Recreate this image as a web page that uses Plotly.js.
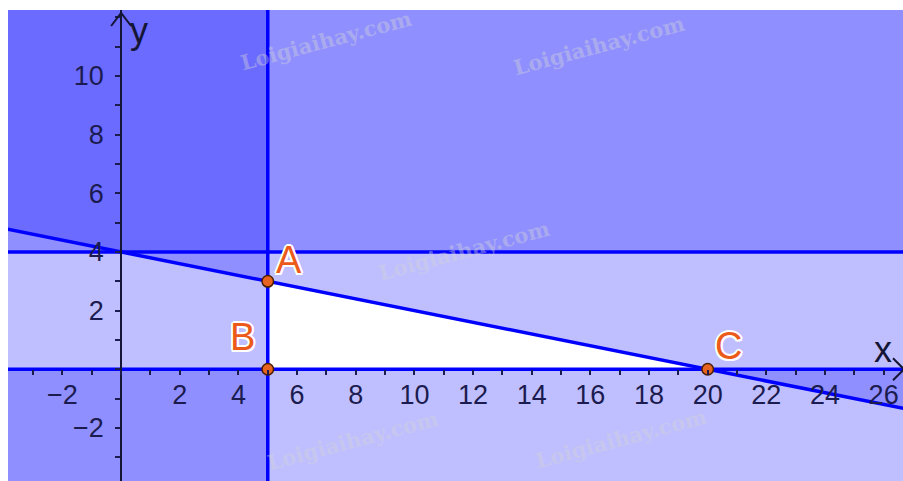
<!DOCTYPE html>
<html>
<head>
<meta charset="utf-8">
<script src="https://cdn.plot.ly/plotly-3.0.1.min.js"></script>
<style>html,body{margin:0;padding:0;background:#fff;}#chart{width:903px;height:481px;}</style>
</head>
<body>
<div id="chart"></div>
<script>
// ---- data ----
const xTickVals = [-2, 2, 4, 6, 8, 10, 12, 14, 16, 18, 20, 22, 24, 26];
const xTickText = ['−2', '2', '4', '6', '8', '10', '12', '14', '16', '18', '20', '22', '24', '26'];
const yTickVals = [-2, 2, 4, 6, 8, 10];
const yTickText = ['−2', '2', '4', '6', '8', '10'];
const boundaryX = 5;          // x = 5
const boundaryY = 4;          // y = 4
const lineXIntercept = 20;    // x/20 + y/4 = 1
const lineYIntercept = 4;
const pointLabels = ['A', 'B', 'C'];
const pointX = [5, 5, 20];
const pointY = [3, 0, 0];
const xRange = [-3.857, 26.66];
const yRange = [-3.81, 12.25];

// ---- helpers ----
const FAR = 1000;
const lineY = x => lineYIntercept - lineYIntercept * x / lineXIntercept;
const fillColor = 'rgba(0,0,255,0.25)';
const blue = '#0000ff';
const dark = '#1b1b4f';

function region(xs, ys) {
  return {type: 'scatter', mode: 'none', x: xs, y: ys, fill: 'toself',
          fillcolor: fillColor, hoverinfo: 'skip', showlegend: false};
}
function line(xs, ys) {
  return {type: 'scatter', mode: 'lines', x: xs, y: ys,
          line: {color: blue, width: 3.5}, hoverinfo: 'skip', showlegend: false};
}

const traces = [
  // x < 5
  region([-FAR, boundaryX, boundaryX, -FAR], [-FAR, -FAR, FAR, FAR]),
  // y > 4
  region([-FAR, FAR, FAR, -FAR], [boundaryY, boundaryY, FAR, FAR]),
  // y < 0
  region([-FAR, FAR, FAR, -FAR], [0, 0, -FAR, -FAR]),
  // above the line x/20 + y/4 = 1
  region([-FAR, FAR, FAR, -FAR], [lineY(-FAR), lineY(FAR), 10 * FAR, 10 * FAR]),
  // boundary lines
  line([boundaryX, boundaryX], [-FAR, FAR]),
  line([-FAR, FAR], [boundaryY, boundaryY]),
  line([-FAR, FAR], [0, 0]),
  line([-FAR, FAR], [lineY(-FAR), lineY(FAR)]),
  // points
  {type: 'scatter', mode: 'markers', x: pointX, y: pointY, cliponaxis: false,
   marker: {size: 11.5, color: '#e8641e', line: {color: '#4a1e00', width: 1.5}},
   hoverinfo: 'skip', showlegend: false}
];

const labelShift = {A: [21, 21], B: [-25, 32], C: [21, 23]};
const halo = '2px 0 0 #fff, -2px 0 0 #fff, 0 2px 0 #fff, 0 -2px 0 #fff, 1.5px 1.5px 0 #fff, -1.5px -1.5px 0 #fff, 1.5px -1.5px 0 #fff, -1.5px 1.5px 0 #fff';
const annotations = pointLabels.map((t, i) => ({
  x: pointX[i], y: pointY[i], xref: 'x', yref: 'y', text: t, showarrow: false,
  xanchor: 'center', yanchor: 'middle',
  xshift: labelShift[t][0], yshift: labelShift[t][1],
  font: {family: 'Liberation Sans, Arial, sans-serif', size: 38, color: '#eb5a1a', shadow: halo}
}));

// axis names
annotations.push({x: 1, y: 0, xref: 'paper', yref: 'y', text: 'x', showarrow: false,
  xanchor: 'right', yanchor: 'bottom', xshift: -9, yshift: -3,
  font: {family: 'Liberation Sans, Arial, sans-serif', size: 36, color: '#151535'}});
annotations.push({x: 0, y: 1, xref: 'x', yref: 'paper', text: 'y', showarrow: false,
  xanchor: 'left', yanchor: 'top', xshift: 7, yshift: 2,
  font: {family: 'Liberation Sans, Arial, sans-serif', size: 36, color: '#151535'}});

// watermarks
const wmText = 'Loigiaihay.com';
const wmPos = [[0.355, 0.935], [0.66, 0.925], [0.51, 0.49], [0.385, 0.085], [0.685, 0.09]];
wmPos.forEach(p => annotations.push({
  x: p[0], y: p[1], xref: 'paper', yref: 'paper', text: '<b>' + wmText + '</b>', showarrow: false,
  xanchor: 'center', yanchor: 'middle',
  textangle: -15, font: {family: 'DejaVu Serif, serif', size: 21, color: 'rgba(210,210,215,0.42)'}
}));

const shapes = [
  // y-axis arrow head
  {type: 'path', xref: 'x', yref: 'y', xsizemode: 'pixel', ysizemode: 'pixel',
   xanchor: 0, yanchor: yRange[1], path: 'M -10 -16 L 0 -3 L 10 -16',
   line: {color: '#151535', width: 2}},
  // x-axis arrow head
  {type: 'path', xref: 'x', yref: 'y', xsizemode: 'pixel', ysizemode: 'pixel',
   xanchor: xRange[1], yanchor: 0, path: 'M -10 11 L 1 0 L -10 -11',
   line: {color: '#151535', width: 2}}
];

const tickFont = {family: 'Liberation Sans, Arial, sans-serif', size: 27, color: dark};

const layout = {
  width: 903, height: 481,
  margin: {l: 8, r: 0, t: 10, b: 0, pad: 0},
  paper_bgcolor: '#ffffff', plot_bgcolor: '#ffffff',
  showlegend: false,
  xaxis: {
    range: xRange, anchor: 'free', position: (0 - yRange[0]) / (yRange[1] - yRange[0]),
    showgrid: false, zeroline: false, showline: false,
    tickmode: 'array', tickvals: xTickVals, ticktext: xTickText,
    ticks: 'outside', ticklen: 5, tickwidth: 2, tickcolor: dark,
    minor: {tickmode: 'linear', tick0: 0, dtick: 1, ticks: 'outside', ticklen: 5, tickwidth: 2, tickcolor: dark},
    tickfont: tickFont, ticklabelstandoff: -4, fixedrange: true
  },
  yaxis: {
    range: yRange, anchor: 'free', position: (0 - xRange[0]) / (xRange[1] - xRange[0]),
    showgrid: false, zeroline: false, showline: true, linecolor: '#151535', linewidth: 2,
    tickmode: 'array', tickvals: yTickVals, ticktext: yTickText,
    ticks: 'outside', ticklen: 5, tickwidth: 2, tickcolor: dark,
    minor: {tickmode: 'linear', tick0: 0, dtick: 1, ticks: 'outside', ticklen: 5, tickwidth: 2, tickcolor: dark},
    tickfont: tickFont, ticklabelstandoff: 6, fixedrange: true
  },
  shapes: shapes,
  annotations: annotations
};

Plotly.newPlot('chart', traces, layout, {displayModeBar: false, staticPlot: true});
</script>
</body>
</html>
